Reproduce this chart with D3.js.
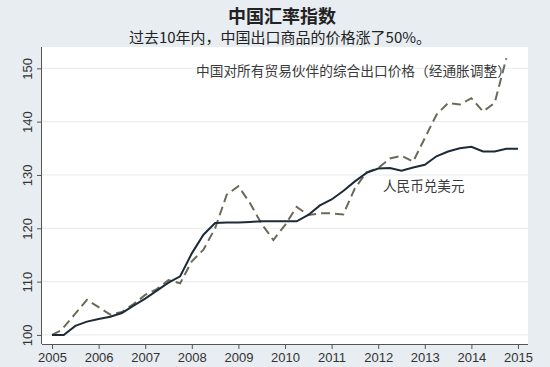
<!DOCTYPE html>
<html>
<head>
<meta charset="utf-8">
<script src="https://cdn.jsdelivr.net/npm/d3@7"></script>
<style>
  html, body { margin: 0; padding: 0; background: #e7edf1; }
  svg { display: block; }
  text { font-family: "Liberation Sans", Arial, "Noto Sans CJK SC", sans-serif; }
</style>
</head>
<body>
<svg id="chart" width="550" height="367"></svg>
<script>
// ---- data (quarterly, decimal years) ----
const cnyDates = [2005.00,2005.25,2005.50,2005.75,2006.00,2006.25,2006.50,2006.75,2007.00,2007.25,2007.50,2007.75,
  2008.00,2008.25,2008.50,2008.75,2009.00,2009.25,2009.50,2009.75,2010.00,2010.25,2010.50,2010.75,
  2011.00,2011.25,2011.50,2011.75,2012.00,2012.25,2012.50,2012.75,2013.00,2013.25,2013.50,2013.75,
  2014.00,2014.25,2014.50,2014.75,2015.00];
const cnyValues = [100.0,100.0,101.7,102.5,103.0,103.4,104.1,105.5,106.8,108.3,109.8,111.0,
  115.3,118.8,121.0,121.1,121.1,121.2,121.3,121.3,121.3,121.3,122.5,124.3,
  125.4,127.0,128.8,130.4,131.2,131.3,130.8,131.4,131.9,133.5,134.4,135.0,
  135.3,134.4,134.4,134.9,134.9];

const exportDates = [2005.00,2005.20,2005.50,2005.75,2006.00,2006.25,2006.50,2006.75,2007.00,2007.25,2007.50,2007.75,
  2008.00,2008.25,2008.50,2008.75,2009.00,2009.25,2009.50,2009.75,2010.00,2010.25,2010.50,2010.75,
  2011.00,2011.25,2011.50,2011.75,2012.00,2012.25,2012.50,2012.75,2013.00,2013.25,2013.50,2013.75,
  2014.00,2014.25,2014.50,2014.75];
const exportValues = [100.0,100.9,104.0,106.6,105.2,103.8,104.3,105.8,107.5,108.6,110.3,109.7,
  113.8,116.0,120.0,126.3,127.9,124.7,120.8,117.8,120.6,124.0,122.5,122.8,
  122.8,122.6,127.5,130.5,131.3,133.1,133.6,132.5,136.9,141.3,143.5,143.2,
  144.4,141.9,143.5,151.9];

const yearTicks = [2005,2006,2007,2008,2009,2010,2011,2012,2013,2014,2015];
const valueTicks = [100,110,120,130,140,150];

const titleText = "中国汇率指数";
const subtitleText = "过去10年内，中国出口商品的价格涨了50%。";
const exportLabel = "中国对所有贸易伙伴的综合出口价格（经通胀调整）";
const cnyLabel = "人民币兑美元";

// ---- layout ----
const W = 550, H = 367;
const panel = {left: 42, right: 528, top: 47, bottom: 344};

const svg = d3.select("#chart");
svg.append("rect").attr("x",0).attr("y",0).attr("width",W).attr("height",H).attr("fill","#e7edf1");
svg.append("rect").attr("x",panel.left).attr("y",panel.top)
  .attr("width",panel.right-panel.left).attr("height",panel.bottom-panel.top).attr("fill","#ffffff");

const x = d3.scaleLinear().domain([2004.785, 2015.215]).range([panel.left, panel.right]);
const y = d3.scaleLinear().domain([98.3, 154.0]).range([panel.bottom, panel.top]);

// gridlines
svg.append("g").selectAll("line").data(valueTicks).join("line")
  .attr("x1", panel.left).attr("x2", panel.right)
  .attr("y1", d => y(d)).attr("y2", d => y(d))
  .attr("stroke", "#e5ebef").attr("stroke-width", 1);

// titles
svg.append("text").attr("x", 282).attr("y", 23).attr("text-anchor","middle")
  .attr("font-size", 18).attr("font-weight","bold").attr("fill","#222")
  .style("font-family", '"Noto Sans CJK SC", sans-serif').text(titleText);
svg.append("text").attr("x", 280).attr("y", 43).attr("text-anchor","middle")
  .attr("font-size", 15).attr("fill","#222")
  .style("font-family", '"Noto Sans CJK SC", sans-serif').text(subtitleText);

// annotations
svg.append("text").attr("x", 196).attr("y", 70).attr("dominant-baseline","central")
  .attr("font-size", 13.7).attr("fill","#3a3a3a")
  .style("font-family", '"Noto Sans CJK SC", sans-serif').text(exportLabel);
svg.append("text").attr("x", 383).attr("y", 185).attr("dominant-baseline","central")
  .attr("font-size", 13.6).attr("fill","#3a3a3a")
  .style("font-family", '"Noto Sans CJK SC", sans-serif').text(cnyLabel);

// axes
const xAxis = svg.append("g").attr("transform", `translate(0,${panel.bottom})`)
  .call(d3.axisBottom(x).tickValues(yearTicks).tickFormat(d3.format("d")).tickSize(5).tickSizeOuter(0).tickPadding(4));
xAxis.select(".domain").attr("stroke","#555").attr("d", `M${panel.left},0.5H${panel.right}`);
xAxis.selectAll(".tick line").attr("stroke","#555");
xAxis.selectAll(".tick text").attr("font-size", 13).attr("fill","#333")
  .style("font-family",'"Liberation Sans", Arial, sans-serif');

const yAxis = svg.append("g").attr("transform", `translate(${panel.left},0)`)
  .call(d3.axisLeft(y).tickValues(valueTicks).tickSize(5).tickSizeOuter(0));
yAxis.select(".domain").attr("stroke","#555").attr("d", `M-0.5,${panel.top}V${panel.bottom}`);
yAxis.selectAll(".tick line").attr("stroke","#555");
yAxis.selectAll(".tick text")
  .attr("x", 0).attr("dy", null).attr("y", -15)
  .attr("transform","rotate(-90)").attr("text-anchor","middle")
  .attr("dominant-baseline","central")
  .attr("font-size", 13).attr("fill","#333")
  .style("font-family",'"Liberation Sans", Arial, sans-serif');

// lines
const line = d3.line().x(d => x(d[0])).y(d => y(d[1]));
const exportPts = exportDates.map((d,i) => [d, exportValues[i]]);
const cnyPts = cnyDates.map((d,i) => [d, cnyValues[i]]);

svg.append("path").datum(exportPts).attr("d", line)
  .attr("fill","none").attr("stroke","#6a6b57").attr("stroke-width",2)
  .attr("stroke-dasharray","9,5");
svg.append("path").datum(cnyPts).attr("d", line)
  .attr("fill","none").attr("stroke","#1d2a38").attr("stroke-width",2);
</script>
</body>
</html>
